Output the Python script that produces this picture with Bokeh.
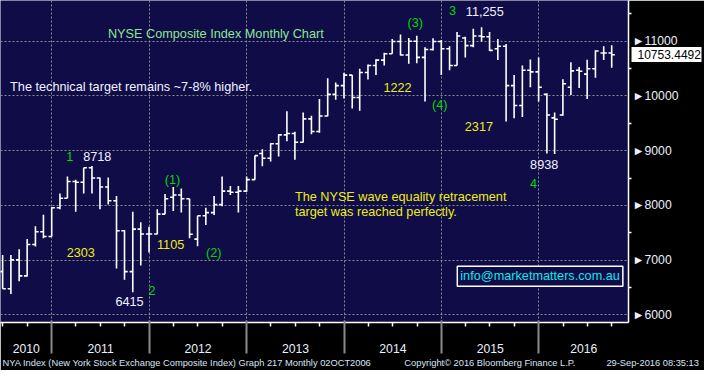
import pandas as pd
from bokeh.plotting import figure
from bokeh.models import (ColumnDataSource, FixedTicker, Range1d, Label, LabelSet, LinearAxis,
                          DatetimeTickFormatter, Title)
from bokeh.core.properties import value
from bokeh.embed import file_html
from bokeh.resources import INLINE

# ---------------- data (monthly OHLC, NYSE Composite, Jun 2010 - Sep 2016) ----------------
months = pd.date_range("2010-06-30", periods=76, freq="ME")
opens = [6790, 6478, 7004, 6712, 7285, 7518, 7431, 7957, 8132, 8436, 8424, 8687, 8500, 8337, 8086, 7536,
         6789, 7566, 7478, 7478, 7840, 8150, 8191, 8121, 7384, 7811, 7869, 8015, 8261, 8240, 8261, 8471,
         8949, 8862, 9126, 9289, 9313, 9155, 9581, 9350, 9634, 10032, 10189, 10382, 9972, 10428, 10557, 10655,
         10773, 10996, 10750, 11000, 10705, 10850, 10996, 10862, 10557, 11060, 10920, 11095, 11083, 10862,
         10908, 10189, 9827, 10470, 10441, 10031, 9600, 9651, 10160, 10470, 10400, 10498, 10786, 10786]
highs = [7092, 7092, 7197, 7384, 7618, 7828, 7968, 8219, 8529, 8471, 8687, 8718, 8512, 8512, 8173, 7550,
         7886, 7693, 7610, 7928, 8209, 8337, 8308, 8121, 7811, 7956, 8173, 8529, 8354, 8354, 8529, 8910,
         9026, 9137, 9301, 9721, 9348, 9699, 9640, 9944, 10323, 10247, 10423, 10382, 10498, 10575, 10673, 10791,
         11041, 11124, 11060, 11100, 10891, 11054, 11025, 10908, 11171, 11083, 11230, 11255, 11171, 11040,
         10949, 10382, 10558, 10668, 10703, 10049, 9699, 10305, 10615, 10528, 10662, 10838, 10908, 10926]
lows = [6478, 6379, 6613, 6700, 7250, 7402, 7431, 7928, 8132, 7886, 8219, 8219, 7928, 8016, 6847, 6642,
        6415, 6904, 7139, 7472, 7840, 7899, 7870, 7402, 7255, 7640, 7826, 7985, 8190, 7870, 8250, 8470,
        8717, 8804, 8892, 9172, 8833, 9150, 9300, 9329, 9628, 9933, 9956, 9769, 9730, 10300, 10382, 10557,
        10773, 10740, 10590, 10600, 9897, 10830, 10382, 10470, 10557, 10705, 10891, 10996, 10821, 10656,
        9534, 9593, 9616, 10160, 9897, 8950, 8938, 9640, 10020, 10148, 9944, 10335, 10656, 10517]
closes = [6478, 7004, 6712, 7285, 7518, 7431, 7957, 8132, 8436, 8424, 8687, 8500, 8337, 8086, 7536, 6789,
          7566, 7478, 7478, 7840, 8121, 8191, 8121, 7472, 7811, 7869, 8015, 8261, 8240, 8261, 8471, 8910,
          8862, 9126, 9289, 9313, 9155, 9581, 9350, 9634, 10032, 10189, 10382, 9972, 10428, 10557, 10655, 10773,
          10996, 10750, 11000, 10705, 10850, 10996, 10862, 10557, 11095, 10920, 11095, 11083, 10833, 10908,
          10189, 9827, 10470, 10441, 10160, 9651, 9576, 10224, 10458, 10452, 10498, 10821, 10786, 10753]
last_price = 10753.4492

years = [2010, 2011, 2012, 2013, 2014, 2015, 2016]
y_ticks = [6000, 7000, 8000, 9000, 10000, 11000]
y_minor = [6500, 7500, 8500, 9500, 10500, 11500]

# wave-count annotations (text, date, level, colour-key)
wave_text = ["1", "8718", "(1)", "2303", "1105", "(2)", "6415", "2",
             "(3)", "3", "11,255", "1222", "(4)", "2317", "8938", "4"]
wave_date = ["2011-03-09", "2011-06-20", "2012-03-28", "2011-04-19", "2012-03-21", "2012-08-30", "2011-10-19", "2012-01-11",
             "2014-09-24", "2015-02-11", "2015-06-12", "2014-07-20", "2014-12-25", "2015-05-21", "2016-01-21", "2015-12-12"]
wave_level = [8900, 8898, 8459, 7145, 7285, 7127, 6251, 6443,
              11334, 11562, 11545, 10160, 9842, 9441, 8740, 8407]
wave_kind = ["g", "w", "g", "y", "y", "g", "w", "g",
             "g", "g", "w", "y", "g", "y", "w", "g"]

note_text = ["NYSE Composite Index Monthly Chart", "The technical target remains ~7-8% higher.",
             "The NYSE wave equality retracement", "target was reached perfectly."]
note_date = ["2011-07-30", "2010-07-28", "2013-06-30", "2013-06-30"]
note_level = [11141, 10160, 8161, 7880]
note_kind = ["t", "w", "y", "y"]

email_text = "info@marketmatters.com.au"
email_date = "2015-03-01"
email_level = 6706

footer_left = "NYA Index (New York Stock Exchange Composite Index) Graph 217  Monthly 02OCT2006"
footer_mid = "Copyright\u00a9 2016 Bloomberg Finance L.P."
footer_right = "29-Sep-2016 08:35:13"

# ---------------- styling ----------------
NAVY = "#0F0C48"
COLORS = {"g": "#00D800", "w": "#F2F2FF", "y": "#EEEE10", "t": "#8EE68E"}
FONT = "Liberation Sans"
FS = "12.7px"
AXIS_TXT = "#EAF0FF"


def ms(d):
    return pd.Timestamp(d).value / 1e6


X0, X1 = pd.Timestamp("2010-06-22"), pd.Timestamp("2016-12-02")
Y0, Y1 = 5860, 11745

p = figure(width=704, height=370, x_axis_type="datetime", y_axis_location="right",
           x_range=Range1d(ms(X0), ms(X1)), y_range=Range1d(Y0, Y1),
           output_backend="svg", toolbar_location=None,
           min_border_left=0, min_border_top=0, min_border_right=76, min_border_bottom=48,
           background_fill_color=NAVY, border_fill_color="black", outline_line_color=None)

# bars
tick = pd.Timedelta(days=12)
src = ColumnDataSource(dict(date=months, left=months - tick, right=months + tick,
                            open=opens, high=highs, low=lows, close=closes))
p.segment(x0="date", y0="low", x1="date", y1="high", source=src, line_color="white", line_width=1.6)
p.segment(x0="left", y0="open", x1="date", y1="open", source=src, line_color="white", line_width=1.6)
p.segment(x0="date", y0="close", x1="right", y1="close", source=src, line_color="white", line_width=1.6)

# ---- x axis: year labels centred on the visible part of each year, quarterly minor ticks
year_starts = [ms(f"{y}-01-01") for y in years if X0 < pd.Timestamp(f"{y}-01-01") < X1]
quarters = [ms(f"{y}-{m:02d}-01") for y in years for m in (4, 7, 10)
            if X0 < pd.Timestamp(f"{y}-{m:02d}-01") < X1]
year_mid = []
for y in years:
    a = max(X0, pd.Timestamp(f"{y}-01-01"))
    b = min(X1, pd.Timestamp(f"{y + 1}-01-01"))
    if a < b:
        year_mid.append((ms(a) + ms(b)) / 2)

xa = p.xaxis[0]
xa.ticker = FixedTicker(ticks=year_mid, minor_ticks=quarters)
xa.formatter = DatetimeTickFormatter(microseconds="%Y", milliseconds="%Y", seconds="%Y", minsec="%Y",
                                     minutes="%Y", hourmin="%Y", hours="%Y", days="%Y", months="%Y", years="%Y")
xa.axis_line_color = "white"
xa.axis_line_width = 1.5
xa.major_tick_line_color = None
xa.major_tick_out = 4
xa.major_tick_in = 0
xa.minor_tick_line_color = "white"
xa.minor_tick_line_width = 1.5
xa.minor_tick_out = 4
xa.minor_tick_in = 0
xa.major_label_standoff = 17
xa.major_label_text_color = AXIS_TXT
xa.major_label_text_font = FONT
xa.major_label_text_font_size = "12.2px"

# long grey year-boundary ticks (drawn inward from a second, line-less axis)
xb = LinearAxis(ticker=FixedTicker(ticks=year_starts, minor_ticks=[]),
                axis_line_color=None, major_tick_line_color="#8A8A8A", major_tick_line_width=2,
                major_tick_in=35, major_tick_out=-2, minor_tick_line_color=None,
                major_label_text_font_size="1px", major_label_text_alpha=0, major_label_standoff=0)
p.add_layout(xb, "below")

p.xgrid[0].ticker = FixedTicker(ticks=year_starts)

# ---- y axis on the right, arrow-head before each price label
ya = p.yaxis[0]
ya.ticker = FixedTicker(ticks=y_ticks, minor_ticks=y_minor)
ya.major_label_overrides = {t: "\u25BA" + str(t) for t in y_ticks}
ya.axis_line_color = "white"
ya.axis_line_width = 1.5
ya.major_tick_out = 0
ya.major_tick_in = 0
ya.minor_tick_line_color = "white"
ya.minor_tick_line_width = 1.5
ya.minor_tick_out = 3
ya.minor_tick_in = 0
ya.major_label_standoff = 1
ya.major_label_text_color = AXIS_TXT
ya.major_label_text_font = FONT
ya.major_label_text_font_size = "12.2px"
p.ygrid[0].ticker = FixedTicker(ticks=y_ticks)

# last-price tag: white box drawn as a thick tick, black label pulled back over it
tag = LinearAxis(ticker=FixedTicker(ticks=[last_price], minor_ticks=[]),
                 major_label_overrides={last_price: f"{last_price:.4f}"},
                 axis_line_color=None, minor_tick_line_color=None,
                 major_tick_line_color="white", major_tick_line_width=15,
                 major_tick_in=50, major_tick_out=20,
                 major_label_standoff=-64, major_label_text_color="black",
                 major_label_text_font=FONT, major_label_text_font_size="12px")
p.add_layout(tag, "right")

# grid
for g in (p.xgrid[0], p.ygrid[0]):
    g.grid_line_color = "#8C8C8C"
    g.grid_line_dash = "2 2"
    g.grid_line_width = 1

# wave labels
wsrc = ColumnDataSource(dict(x=[ms(d) for d in wave_date], y=wave_level, t=wave_text,
                             c=[COLORS[k] for k in wave_kind]))
p.add_layout(LabelSet(x="x", y="y", text="t", source=wsrc, text_align="center", text_baseline="middle",
                      text_color="c", text_font=value(FONT), text_font_size=value(FS)))

# notes
nsrc = ColumnDataSource(dict(x=[ms(d) for d in note_date], y=note_level, t=note_text,
                             c=[COLORS[k] for k in note_kind]))
p.add_layout(LabelSet(x="x", y="y", text="t", source=nsrc, text_align="left", text_baseline="middle",
                      text_color="c", text_font=value(FONT), text_font_size=value(FS)))

# email box
p.add_layout(Label(x=ms(email_date), y=email_level, text=email_text, text_align="left", text_baseline="middle",
                   text_color="#10E8E8", text_font=FONT, text_font_size=FS,
                   border_line_color="white", border_line_width=1.5, background_fill_color=NAVY, padding=3))

# footer line
NB = "\u00a0"
footer = footer_left + NB * 13 + footer_mid + NB * 12 + footer_right
p.add_layout(Title(text=footer, align="left", offset=2, standoff=1, text_font=FONT, text_font_size="9.3px",
                   text_font_style="normal", text_color="#D8E4F4"), "below")

open("out.html", "w").write(file_html(p, INLINE))
